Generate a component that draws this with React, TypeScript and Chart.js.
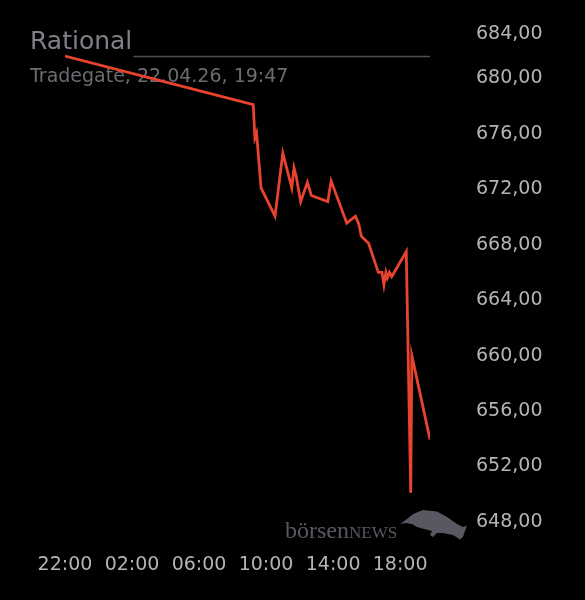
import React, { useEffect, useRef } from "react";
import { Chart, registerables } from "chart.js";

Chart.register(...registerables);

// Trade times (21.04. 22:00 → 22.04. 19:47) and prices
const TIMES = [
  "22:00", "09:14", "09:20", "09:26", "09:42", "10:32", "11:00", "11:32",
  "11:40", "11:47", "12:04", "12:28", "12:42", "13:41", "13:53", "14:49",
  "15:20", "15:32", "15:41", "16:07", "16:42", "16:55", "17:02", "17:09",
  "17:14", "17:22", "17:30", "17:36", "18:22", "18:38", "18:42", "19:47",
];
const PRICES = [
  681.6, 678.1, 675.7, 676.05, 672.1, 670.05, 674.6, 672.1,
  673.55, 673.0, 671.1, 672.5, 671.55, 671.1, 672.6, 669.55,
  670.05, 669.5, 668.6, 668.1, 666.0, 666.0, 665.1, 666.0,
  665.6, 666.0, 665.7, 665.9, 667.5, 650.1, 660.0, 653.95,
];
const X_TICK_HOURS = [0, 4, 8, 12, 16, 20]; // hours after 22:00
const Y_MIN = 648;
const Y_MAX = 684;
const Y_STEP = 4;
const TITLE = "Rational";
const SUBTITLE = "Tradegate, 22.04.26, 19:47";
const START_HOUR = 22;

const toOffset = (t: string) => {
  const [h, m] = t.split(":").map(Number);
  let v = h + m / 60 - START_HOUR;
  if (v < 0) v += 24;
  return v;
};

const FONT = "'DejaVu Sans', sans-serif";

const decorPlugin = {
  id: "decor",
  beforeDatasetsDraw(chart: any) {
    const ctx = chart.ctx as CanvasRenderingContext2D;
    const area = chart.chartArea;
    ctx.save();
    ctx.textBaseline = "alphabetic";
    ctx.textAlign = "left";
    ctx.fillStyle = "#808088";
    ctx.font = `25px ${FONT}`;
    ctx.fillText(TITLE, 30, 49);
    const w = ctx.measureText(TITLE).width;
    ctx.strokeStyle = "#505055";
    ctx.lineWidth = 1.5;
    ctx.beginPath();
    ctx.moveTo(30 + w + 1, 56.5);
    ctx.lineTo(area.right, 56.5);
    ctx.stroke();
    ctx.fillStyle = "#6c6c72";
    ctx.font = `19px ${FONT}`;
    ctx.fillText(SUBTITLE, 30, 82);

    // watermark
    ctx.fillStyle = "#585862";
    ctx.font = `24px 'Liberation Serif', 'DejaVu Serif', serif`;
    const w1 = ctx.measureText("börsen").width;
    ctx.fillText("börsen", 285, 538);
    ctx.font = `17px 'Liberation Serif', 'DejaVu Serif', serif`;
    ctx.fillText("NEWS", 285 + w1, 538);
    ctx.beginPath();
    const pts = [
      [400, 524], [407, 519], [413, 514], [423, 510], [437, 511.5], [447, 517],
      [457, 524], [463, 527], [467, 525.5], [465, 531], [463, 537], [460, 539.5],
      [453, 535], [443, 533], [437, 533], [433, 537], [430, 535], [432, 531],
      [424, 529], [417, 527], [412, 524], [406, 523],
    ];
    ctx.moveTo(pts[0][0], pts[0][1]);
    for (const p of pts.slice(1)) ctx.lineTo(p[0], p[1]);
    ctx.closePath();
    ctx.fill();
    ctx.restore();
  },
};

export default function App() {
  const ref = useRef<HTMLCanvasElement | null>(null);
  useEffect(() => {
    document.body.style.margin = "0";
    document.body.style.background = "#000";
    if (!ref.current) return;
    const data = TIMES.map((t, i) => ({ x: toOffset(t), y: PRICES[i] }));
    const xMax = toOffset(TIMES[TIMES.length - 1]);
    const chart = new Chart(ref.current, {
      type: "line",
      data: {
        datasets: [
          {
            data,
            borderColor: "#e8432e",
            borderWidth: 2.8,
            pointRadius: 0,
            tension: 0,
            fill: false,
          },
        ],
      },
      options: {
        animation: false,
        responsive: false,
        layout: { padding: { left: 65, top: 21, right: 0, bottom: 0 } },
        plugins: { legend: { display: false }, tooltip: { enabled: false } },
        scales: {
          x: {
            type: "linear",
            min: 0,
            max: xMax,
            grid: { display: false, drawTicks: false },
            border: { display: false },
            afterBuildTicks: (scale: any) => {
              scale.ticks = X_TICK_HOURS.map((v) => ({ value: v }));
            },
            afterFit: (scale: any) => {
              scale.height = 78;
            },
            ticks: {
              color: "#b4b4b4",
              font: { family: FONT, size: 19 },
              padding: 32,
              maxRotation: 0,
              autoSkip: false,
              callback: (v: any) => {
                const h = (START_HOUR + Number(v)) % 24;
                return `${String(h).padStart(2, "0")}:00`;
              },
            },
          },
          y: {
            position: "right",
            min: Y_MIN,
            max: Y_MAX,
            grid: {
              display: true,
              drawOnChartArea: false,
              drawTicks: true,
              tickLength: 46,
              color: "rgba(0,0,0,0)",
            },
            border: { display: false },
            afterFit: (scale: any) => {
              scale.width = 155;
            },
            ticks: {
              stepSize: Y_STEP,
              color: "#b4b4b4",
              font: { family: FONT, size: 19 },
              padding: 0,
              callback: (v: any) => {
                const s = Number(v).toFixed(2).replace(".", ",");
                // top label sits just below the chart edge
                return Number(v) === Y_MAX ? ["", s] : s;
              },
            },
          },
        },
      },
      plugins: [decorPlugin],
    });
    return () => chart.destroy();
  }, []);
  return (
    <div style={{ width: 585, height: 600, background: "#000" }}>
      <canvas ref={ref} width={585} height={600} />
    </div>
  );
}
